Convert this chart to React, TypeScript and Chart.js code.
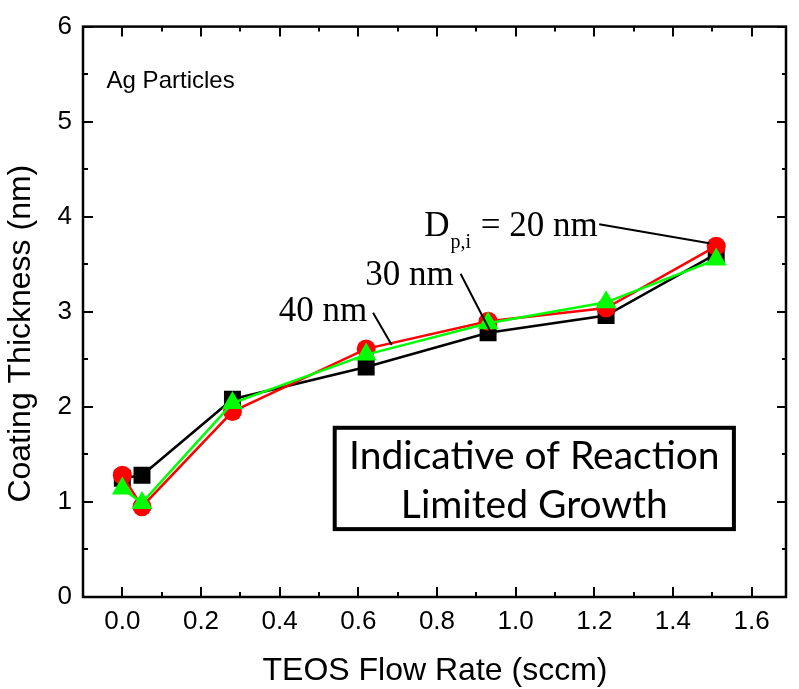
import React, { useEffect, useRef } from "react";
import { Chart, registerables } from "chart.js";

Chart.register(...registerables);

// ---- data ----
const flowRate = [0, 0.05, 0.28, 0.62, 0.93, 1.23, 1.51];
const thicknessBlack = [1.25, 1.28, 2.08, 2.42, 2.78, 2.96, 3.61];
const thicknessRed = [1.28, 0.95, 1.95, 2.61, 2.9, 3.04, 3.69];
const thicknessGreen = [1.14, 0.99, 2.04, 2.55, 2.88, 3.1, 3.55];

const xTickValues = [0, 0.2, 0.4, 0.6, 0.8, 1.0, 1.2, 1.4, 1.6];
const xMinorValues = [-0.1, 0.1, 0.3, 0.5, 0.7, 0.9, 1.1, 1.3, 1.5];
const yTickValues = [0, 1, 2, 3, 4, 5, 6];
const yMinorValues = [0.5, 1.5, 2.5, 3.5, 4.5, 5.5];

const xTitle = "TEOS Flow Rate (sccm)";
const yTitle = "Coating Thickness (nm)";
const panelLabel = "Ag Particles";
const boxLines = ["Indicative of Reaction", "Limited Growth"];

const SANS = '"Liberation Sans", Arial, sans-serif';
const SERIF = '"Liberation Serif", "Times New Roman", serif';
const BOXFONT = 'Lato, "Open Sans", sans-serif';

export default function App() {
  const ref = useRef<HTMLCanvasElement>(null);

  useEffect(() => {
    document.body.style.margin = "0";
    const canvas = ref.current!;

    const decor = {
      id: "decor",
      afterDatasetsDraw(chart: any) {
        const ctx = chart.ctx as CanvasRenderingContext2D;
        const xs = chart.scales.x;
        const ys = chart.scales.y;
        const px = (v: number) => xs.getPixelForValue(v);
        const py = (v: number) => ys.getPixelForValue(v);
        ctx.save();

        // annotation box
        const bl = px(0.54), br = px(1.555), bt = py(1.78), bb = py(0.714);
        ctx.lineWidth = 4;
        ctx.strokeStyle = "#000";
        ctx.fillStyle = "#fff";
        ctx.fillRect(bl, bt, br - bl, bb - bt);
        ctx.strokeRect(bl, bt, br - bl, bb - bt);
        ctx.fillStyle = "#000";
        ctx.font = `39px ${BOXFONT}`;
        ctx.textAlign = "center";
        ctx.textBaseline = "alphabetic";
        const cx = (bl + br) / 2;
        ctx.fillText(boxLines[0], cx, py(1.345));
        ctx.fillText(boxLines[1], cx, py(0.828));

        // panel label
        ctx.textAlign = "left";
        ctx.font = `24px ${SANS}`;
        ctx.fillText(panelLabel, px(-0.04), py(5.35));

        // series labels (serif)
        ctx.font = `35px ${SERIF}`;
        ctx.fillText("40 nm", px(0.3975), py(2.9));
        ctx.fillText("30 nm", px(0.6175), py(3.28));
        const dx = px(0.7675), dy = py(3.8);
        ctx.fillText("D", dx, dy);
        const dw = ctx.measureText("D").width;
        ctx.font = `20px ${SERIF}`;
        ctx.fillText("p,i", dx + dw + 1, dy + 12);
        const sw = ctx.measureText("p,i").width;
        ctx.font = `35px ${SERIF}`;
        ctx.fillText(" = 20 nm", dx + dw + sw + 2, dy);

        // leader lines
        ctx.lineWidth = 2;
        ctx.beginPath();
        ctx.moveTo(px(0.6375), py(2.99));
        ctx.lineTo(px(0.685), py(2.65));
        ctx.moveTo(px(0.86), py(3.4));
        ctx.lineTo(px(0.9375), py(2.78));
        ctx.moveTo(px(1.2125), py(3.92));
        ctx.lineTo(px(1.4925), py(3.72));
        ctx.stroke();
        ctx.restore();
      },
      afterDraw(chart: any) {
        const ctx = chart.ctx as CanvasRenderingContext2D;
        const a = chart.chartArea;
        const xs = chart.scales.x;
        const ys = chart.scales.y;
        ctx.save();
        ctx.strokeStyle = "#000";
        ctx.lineWidth = 2;
        ctx.beginPath();
        const tick = (vals: number[], len: number) => {
          vals.forEach((v) => {
            const x = Math.round(xs.getPixelForValue(v));
            ctx.moveTo(x, a.bottom);
            ctx.lineTo(x, a.bottom - len);
            ctx.moveTo(x, a.top);
            ctx.lineTo(x, a.top + len);
          });
        };
        const ytick = (vals: number[], len: number) => {
          vals.forEach((v) => {
            const y = Math.round(ys.getPixelForValue(v));
            ctx.moveTo(a.left, y);
            ctx.lineTo(a.left + len, y);
            ctx.moveTo(a.right, y);
            ctx.lineTo(a.right - len, y);
          });
        };
        tick(xTickValues, 10);
        tick(xMinorValues, 5);
        ytick(yTickValues, 10);
        ytick(yMinorValues, 5);
        ctx.stroke();
        ctx.lineWidth = 2.5;
        ctx.strokeRect(a.left, a.top, a.right - a.left - 1, a.bottom - a.top);

        // y title
        ctx.fillStyle = "#000";
        ctx.font = `32px ${SANS}`;
        ctx.textAlign = "center";
        ctx.textBaseline = "middle";
        ctx.translate(21, ys.getPixelForValue(2.77));
        ctx.rotate(-Math.PI / 2);
        ctx.fillText(yTitle, 0, 0);
        ctx.restore();
      },
    };

    const chart = new Chart(canvas, {
      type: "line",
      data: {
        datasets: [
          {
            label: "black",
            data: flowRate.map((x, i) => ({ x, y: thicknessBlack[i] })),
            borderColor: "#000000",
            backgroundColor: "#000000",
            pointStyle: "rect",
            pointRadius: 12,
            pointBorderWidth: 0,
            borderWidth: 2.5,
            order: 2,
          },
          {
            label: "red",
            data: flowRate.map((x, i) => ({ x, y: thicknessRed[i] })),
            borderColor: "#ff0000",
            backgroundColor: "#ff0000",
            pointStyle: "circle",
            pointRadius: 9.5,
            pointBorderWidth: 0,
            borderWidth: 2.5,
            order: 1,
          },
          {
            label: "green",
            data: flowRate.map((x, i) => ({ x, y: thicknessGreen[i] })),
            borderColor: "#00ff00",
            backgroundColor: "#00ff00",
            pointStyle: "triangle",
            pointRadius: 12,
            pointBorderWidth: 0,
            borderWidth: 2.5,
            order: 0,
          },
        ],
      },
      options: {
        animation: false,
        responsive: false,
        layout: { padding: { top: 17, right: 0, left: 0, bottom: 0 } },
        plugins: { legend: { display: false }, tooltip: { enabled: false } },
        scales: {
          x: {
            type: "linear",
            min: -0.1,
            max: 1.69,
            grid: { display: false, drawTicks: false },
            border: { display: false },
            afterBuildTicks: (s: any) => {
              s.ticks = xTickValues.map((v) => ({ value: v }));
            },
            afterFit: (s: any) => {
              s.height = 92;
            },
            ticks: {
              autoSkip: false,
              maxRotation: 0,
              padding: 9,
              color: "#000",
              font: { family: SANS, size: 26 },
              callback: (v: any) => Number(v).toFixed(1),
            },
            title: {
              display: true,
              text: xTitle,
              color: "#000",
              font: { family: SANS, size: 32, lineHeight: 1 },
              padding: { top: 0, bottom: 2 },
            },
          },
          y: {
            type: "linear",
            min: 0,
            max: 6,
            grid: { display: false, drawTicks: false },
            border: { display: false },
            afterBuildTicks: (s: any) => {
              s.ticks = yTickValues.map((v) => ({ value: v }));
            },
            afterFit: (s: any) => {
              s.width = 83;
            },
            ticks: {
              autoSkip: false,
              padding: 11,
              color: "#000",
              font: { family: SANS, size: 26 },
              callback: (v: any) => String(v),
            },
          },
        },
      },
      plugins: [decor],
    } as any);

    return () => chart.destroy();
  }, []);

  return (
    <div style={{ width: 799, height: 689 }}>
      <canvas ref={ref} width={799} height={689} style={{ display: "block" }} />
    </div>
  );
}
